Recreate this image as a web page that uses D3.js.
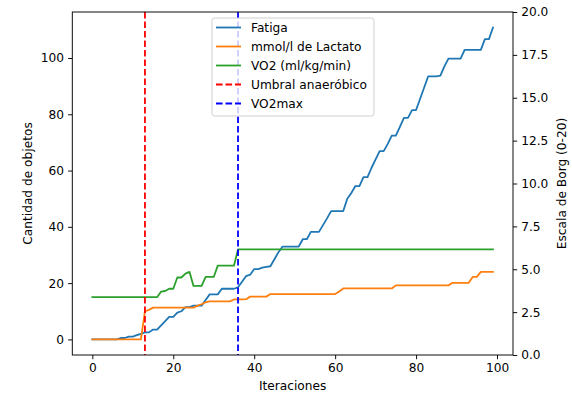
<!DOCTYPE html>
<html><head><meta charset="utf-8">
<script src="https://cdn.jsdelivr.net/npm/d3@7"></script>
<style>
html,body{margin:0;padding:0;background:#fff;}
svg{display:block;font-family:"DejaVu Sans",sans-serif;}
</style></head>
<body><svg id="chart" width="572" height="393"></svg>
<script>
const iterations = d3.range(0, 100);
const fatiga = [0,0,0,0,0,0,0,0.5,0.5,1,1,1.5,2,2.5,2.5,3.5,3.5,5,6.5,8,8,9.5,10,11.5,11.5,12,12,12,14,16,16,16,18,18,18,18,18.5,20.5,22.5,23,25,25,25.5,25.8,26,28.5,31,33,33,33,33,33,35.6,35.6,38.2,38.2,38.2,40.6,43,45.6,45.6,45.6,45.6,50,52,54.5,54.5,57.7,57.7,61,64,66.9,66.9,69.5,72.4,72.4,75.5,78.7,78.7,81.5,81.5,85.5,89.5,93.5,93.5,93.5,93.7,97,99.8,99.8,99.8,99.8,102.9,102.9,102.9,102.9,102.9,106.7,106.7,110.8];
const lactato = [0,0,0,0,0,0,0,0,0,0,0,0,0,10,10.5,11.3,11.3,11.3,11.3,11.3,11.3,11.3,11.3,11.3,11.3,11.3,12,12.5,13.2,13.5,13.5,13.5,13.5,13.5,13.5,14.2,14.2,14.2,14.3,15.2,15.2,15.2,15.2,15.2,16.1,16.1,16.1,16.1,16.1,16.1,16.1,16.1,16.1,16.1,16.1,16.1,16.1,16.1,16.1,16.1,16.1,17,18.1,18.1,18.1,18.1,18.1,18.1,18.1,18.1,18.1,18.1,18.1,18.1,18.1,19.2,19.2,19.2,19.2,19.2,19.2,19.2,19.2,19.2,19.2,19.2,19.2,19.2,19.2,20.1,20.1,20.1,20.1,20.1,22.2,22.2,24,24,24,24];
const vo2 = [15,15,15,15,15,15,15,15,15,15,15,15,15,15,15,15,15,17,17.2,18,18,22,22,23.4,24,19,19,19,22.2,22.2,22.2,26.2,26.2,26.2,26.2,26.2,32,32,32,32,32,32,32,32,32,32,32,32,32,32,32,32,32,32,32,32,32,32,32,32,32,32,32,32,32,32,32,32,32,32,32,32,32,32,32,32,32,32,32,32,32,32,32,32,32,32,32,32,32,32,32,32,32,32,32,32,32,32,32,32];
const umbralX = 13;
const vo2maxX = 36;
const xTicks = [0,20,40,60,80,100];
const yLeftTicks = [0,20,40,60,80,100];
const yRightTicks = [0,2.5,5,7.5,10,12.5,15,17.5,20];
const seriesNames = ["Fatiga","mmol/l de Lactato","VO2 (ml/kg/min)","Umbral anaeróbico","VO2max"];
const colors = ["#1f77b4","#ff7f0e","#2ca02c","#ff0000","#0000ff"];

const svg = d3.select("#chart");
const L=72.3, R=513, T=12, B=355;
const allMax = d3.max([...fatiga,...lactato,...vo2]), allMin = 0;
const ym = (allMax-allMin)*0.05;
const x = d3.scaleLinear().domain([-4.95,103.95]).range([L,R]);
const y = d3.scaleLinear().domain([allMin-ym, allMax+ym]).range([B,T]);
const y2 = d3.scaleLinear().domain([0,20]).range([B,T]);

const fs = 12.2;
const lw = 1.8;
const dash = "6.6,2.9";

const line = d3.line().x((d,i)=>x(iterations[i])).y(d=>y(d));
const plot = svg.append("g");
[fatiga,lactato,vo2].forEach((s,k)=>{
  plot.append("path").attr("d",line(s)).attr("fill","none")
    .attr("stroke",colors[k]).attr("stroke-width",lw)
    .attr("stroke-linejoin","round").attr("stroke-linecap","square");
});
[[umbralX,3],[vo2maxX,4]].forEach(([v,k])=>{
  plot.append("line").attr("x1",x(v)).attr("x2",x(v)).attr("y1",T).attr("y2",B)
    .attr("stroke",colors[k]).attr("stroke-width",lw).attr("stroke-dasharray",dash);
});

// axes
const xAxis = d3.axisBottom(x).tickValues(xTicks).tickSize(4.2).tickPadding(4).tickFormat(d3.format("d"));
const yAxis = d3.axisLeft(y).tickValues(yLeftTicks).tickSize(4.2).tickPadding(4).tickFormat(d3.format("d"));
const yAxis2 = d3.axisRight(y2).tickValues(yRightTicks).tickSize(4.2).tickPadding(4).tickFormat(d3.format(".1f"));
function style(g){
  g.select(".domain").remove();
  g.selectAll(".tick line").attr("stroke","#000").attr("stroke-width",0.95);
  g.selectAll(".tick text").attr("fill","#000").attr("font-size",fs).attr("font-family","DejaVu Sans");
}
svg.append("g").attr("transform",`translate(0,${B})`).call(xAxis).call(style);
svg.append("g").attr("transform",`translate(${L},0)`).call(yAxis).call(style);
svg.append("g").attr("transform",`translate(${R},0)`).call(yAxis2).call(style);

// frame
svg.append("rect").attr("x",L).attr("y",T).attr("width",R-L).attr("height",B-T)
  .attr("fill","none").attr("stroke","#000").attr("stroke-width",0.95);

// labels
svg.append("text").attr("x",(L+R)/2).attr("y",390).attr("text-anchor","middle")
  .attr("font-size",fs).text("Iteraciones");
svg.append("text").attr("transform",`translate(32,${(T+B)/2}) rotate(-90)`).attr("text-anchor","middle")
  .attr("font-size",fs).text("Cantidad de objetos");
svg.append("text").attr("transform",`translate(562,${(T+B)/2}) rotate(-90)`).attr("text-anchor","middle")
  .attr("dominant-baseline","middle").attr("font-size",fs).text("Escala de Borg (0-20)");

// legend
const lg = svg.append("g");
lg.append("rect").attr("x",212).attr("y",18).attr("width",162).attr("height",98).attr("rx",2.5)
  .attr("fill","#fff").attr("fill-opacity",0.8).attr("stroke","#cccccc").attr("stroke-width",0.95);
seriesNames.forEach((n,k)=>{
  const yy = 27.5 + k*19;
  lg.append("line").attr("x1",216).attr("x2",241).attr("y1",yy).attr("y2",yy)
    .attr("stroke",colors[k]).attr("stroke-width",lw)
    .attr("stroke-dasharray",k>=3?dash:null);
  lg.append("text").attr("x",251).attr("y",yy).attr("dominant-baseline","central")
    .attr("font-size",fs).text(n);
});
</script></body></html>
